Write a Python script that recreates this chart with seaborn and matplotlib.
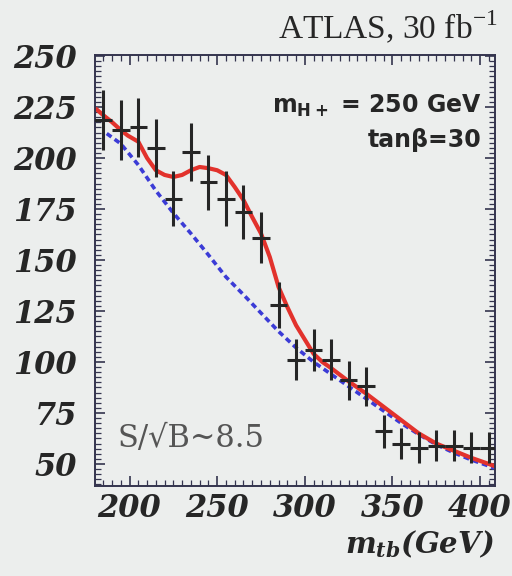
import numpy as np
import pandas as pd
import seaborn as sns
import matplotlib
matplotlib.use("Agg")
import matplotlib.pyplot as plt
from matplotlib.ticker import MultipleLocator

# Binned event counts (10 GeV bins)
mass = [185, 195, 205, 215, 225, 235, 245, 255, 265, 275, 285, 295,
        305, 315, 325, 335, 345, 355, 365, 375, 385, 395, 405]
counts = [218.6, 213.7, 215.0, 205.0, 180.0, 203.0, 188.0, 180.0, 173.5,
          161.0, 128.0, 101.0, 106.0, 101.0, 91.0, 88.0, 66.0, 60.0, 58.0,
          59.0, 59.0, 58.0, 58.0]
errors = np.sqrt(counts)

# Signal + background fit
sig_x = [181, 185, 190, 195, 199, 205, 210, 215, 220, 225, 230, 235, 240,
         245, 250, 255, 260, 265, 270, 275, 280, 285, 290, 295, 305, 310,
         315, 325, 335, 345, 355, 365, 375, 385, 395, 405, 408]
sig_y = [224, 221, 217.6, 213.7, 211, 208, 200, 194, 191.7, 190.7, 191.7,
         194, 195.6, 195, 194, 191.7, 185.8, 179.4, 171, 163, 151.5, 136.8,
         127, 118, 104, 100, 97, 90.5, 84.5, 78, 71.5, 65, 60, 56.5, 53,
         50, 49]

# Background-only fit
bkg_x = [187, 195, 205, 215, 225, 235, 245, 255, 265, 275, 285, 295, 305,
         315, 325, 335, 345, 355, 365, 375, 385, 395, 405, 408]
bkg_y = [212, 207, 196.6, 184, 173, 163, 152.5, 141.7, 133, 124, 115, 107,
         100, 94, 88, 82, 76, 70, 64.5, 59.5, 55.5, 52, 49, 48]

x_ticks = [200, 250, 300, 350, 400]
y_ticks = [50, 75, 100, 125, 150, 175, 200, 225, 250]

sns.set_theme(style="ticks")
plt.rcParams["mathtext.fontset"] = "custom"
plt.rcParams["mathtext.rm"] = "Liberation Serif"
plt.rcParams["mathtext.it"] = "DejaVu Serif:italic:bold"
plt.rcParams["mathtext.sf"] = "DejaVu Sans:bold"

bg = "#eceeed"
ink = "#262626"
spine_c = "#34344e"

fig = plt.figure(figsize=(5.12, 5.76), dpi=100, facecolor=bg)
ax = fig.add_axes([95 / 512, 1 - 486 / 576, 400 / 512, 431 / 576])
ax.set_facecolor(bg)

sns.lineplot(x=bkg_x, y=bkg_y, ax=ax, color="#3b3bd6", lw=2.6,
             linestyle=(0, (1.6, 1.1)), sort=True)
sns.lineplot(x=sig_x, y=sig_y, ax=ax, color="#e2322c", lw=3.0, sort=True)
ax.errorbar(mass, counts, yerr=errors, xerr=5, fmt="none", ecolor=ink,
            elinewidth=2.2, capsize=0, zorder=5)

ax.set_xlim(180.3, 408.5)
ax.set_ylim(39.2, 250.5)
ax.set_xticks(x_ticks)
ax.set_yticks(y_ticks)
ax.xaxis.set_minor_locator(MultipleLocator(5))
ax.yaxis.set_minor_locator(MultipleLocator(2.5))
ax.tick_params(which="both", direction="in", top=True, right=True,
               color=spine_c)
ax.tick_params(which="major", length=7, width=1.2)
ax.tick_params(which="minor", length=4, width=0.9)
ax.tick_params(axis="y", which="major", pad=13)
ax.tick_params(axis="x", which="major", pad=5)
for lab in ax.get_xticklabels() + ax.get_yticklabels():
    lab.set_fontfamily("DejaVu Serif")
    lab.set_fontweight("bold")
    lab.set_fontstyle("italic")
    lab.set_fontsize(22)
    lab.set_color(ink)
for sp in ax.spines.values():
    sp.set_visible(True)
    sp.set_color(spine_c)
    sp.set_linewidth(1.4)
ax.set_xlabel("")
ax.set_ylabel("")

fig.text(497 / 512, 1 - 38 / 576, "ATLAS, 30 fb$^{-1}$",
         ha="right", va="baseline", fontsize=24,
         family="Liberation Serif", color=ink)
ax.text(482 / 512, 1 - 113 / 576, r"$\mathsf{m_{H+}}$ = 250 GeV",
        transform=fig.transFigure, ha="right", va="baseline",
        fontsize=17, family="DejaVu Sans", fontweight="bold", color=ink)
ax.text(482 / 512, 1 - 147 / 576, "tanβ=30",
        transform=fig.transFigure, ha="right", va="baseline",
        fontsize=17, family="DejaVu Sans", fontweight="bold", color=ink)
ax.text(117 / 512, 1 - 447 / 576, "S/√B~8.5",
        transform=fig.transFigure, ha="left", va="baseline",
        fontsize=22, family="DejaVu Serif", color="#555555")
fig.text(494 / 512, 1 - 553 / 576, r"$m_{tb}$(GeV)",
         ha="right", va="baseline", fontsize=21, family="DejaVu Serif",
         fontweight="bold", fontstyle="italic", color=ink)

fig.savefig("out.png", dpi=100, facecolor=bg)
